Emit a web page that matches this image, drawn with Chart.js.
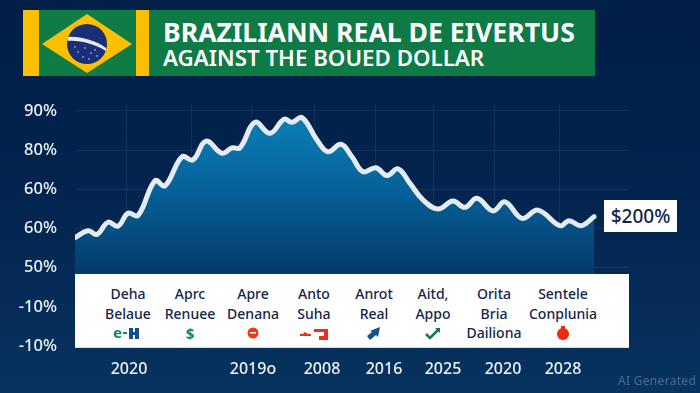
<!DOCTYPE html>
<html>
<head>
<meta charset="utf-8">
<title>Brazilian real chart</title>
<script src="https://cdn.jsdelivr.net/npm/chart.js@4"></script>
<style>
    html, body { margin: 0; padding: 0; }
    body { width: 700px; height: 393px; overflow: hidden; position: relative; font-family: "Noto Sans", sans-serif;
        background: linear-gradient(180deg, #011f47 0%, #02234d 45%, #07335f 100%); }
    #chart { position: absolute; left: 0; top: 0; }
    #banner { position: absolute; left: 23px; top: 10px; width: 572px; height: 66px; background: #0e7a46; }
    #banner svg { position: absolute; left: 0; top: 0; }
    #banner .t1, #banner .t2 { position: absolute; left: 140px; color: #fff; font-weight: 700; white-space: nowrap; }
    #banner .t1 { top: 3px; font-size: 26.6px; line-height: 38px; }
    #banner .t2 { top: 34px; font-size: 22.3px; line-height: 28px; font-weight: 600; }
    #panel { position: absolute; left: 75px; top: 274px; width: 554px; height: 74px; background: #fff;
        border-bottom: 1px solid #d5d9de; box-sizing: border-box; }
    .col { position: absolute; top: 10px; width: 90px; margin-left: -45px; text-align: center;
        font-size: 14px; line-height: 19.5px; font-weight: 500; color: #13264a; white-space: nowrap; }
    .col svg { display: block; margin: 3px auto 0; }
    #tag { position: absolute; left: 604px; top: 200px; width: 73px; height: 32px; background: #fff; color: #10234a;
        font-size: 19px; font-weight: 500; line-height: 32px; text-align: center; }
    #credit { position: absolute; left: 618px; top: 373px; font-size: 12px; line-height: 16px; color: #4f6a8b; letter-spacing: .3px; white-space: nowrap; }
</style>
</head>
<body>
<canvas id="chart" width="700" height="393"></canvas>

<div id="banner">
    <svg width="126" height="66" viewBox="0 0 126 66">
        <rect x="0" y="0" width="16" height="66" fill="#fcbf00"/>
        <rect x="113" y="0" width="13" height="66" fill="#fcbf00"/>
        <rect x="16" y="0" width="97" height="66" fill="#0f7b45"/>
        <polygon points="19,34 64,4 109,34 64,63" fill="#fcc000"/>
        <circle cx="64" cy="34" r="20" fill="#1a2f78"/>
        <path d="M45 27 C56 26 72 30 83 38 L83 41 C72 34 56 30 44.500 31 Z" fill="#e6ecf0"/>
        <g fill="#cfd8ea">
            <circle cx="55" cy="42" r="0.8"/><circle cx="62" cy="38" r="0.8"/><circle cx="68" cy="43" r="0.8"/>
            <circle cx="74" cy="46" r="0.8"/><circle cx="60" cy="47" r="0.8"/><circle cx="52" cy="37" r="0.8"/>
            <circle cx="66" cy="49" r="0.8"/><circle cx="72" cy="40" r="0.8"/>
        </g>
    </svg>
    <div class="t1">BRAZILIANN REAL DE EIVERTUS</div>
    <div class="t2">AGAINST THE BOUED DOLLAR</div>
</div>

<div id="panel"></div>
<div id="tag">$200%</div>
<div id="credit">AI Generated</div>

<script>
// series (t = position along the time axis)
var seriesT = [0, 13, 22, 33, 43, 53, 63, 80, 90, 107, 118, 131, 147, 157, 165, 180, 195, 209, 217, 227, 242, 253,
    266, 277, 288, 301, 312, 323, 335, 348, 363, 378, 390, 402, 418, 430, 447, 463, 485, 494, 506, 519];
var seriesValues = [57.7, 59.4, 58.5, 61.6, 60.6, 63.9, 63.3, 72.2, 70.9, 78.3, 77.5, 82.3, 79.2, 80.6, 80.6, 87.1, 84.3, 87.9, 87.1, 88.3, 82.6, 79.6,
    81.5, 78.3, 74.5, 75.5, 73.5, 75.2, 71.5, 67.3, 65, 67, 65.4, 67.7, 64.5, 66.8, 62.6, 64.7, 60.7, 62, 60.7, 63];

var yTicks = [30, 40, 50, 60, 70, 80, 90];
var yTickLabels = ['-10%', '-10%', '50%', '60%', '60%', '80%', '90%'];
var xTicks = [54, 178, 247, 309, 368, 428, 488];
var xTickLabels = ['2020', '2019o', '2008', '2016', '2025', '2020', '2028'];
var xGrid = [51, 116, 176, 239, 300, 358, 419, 484];

var panelT = [53, 115, 178, 239, 299, 358, 419, 488];
var panelLabels = [['Deha', 'Belaue'], ['Aprc', 'Renuee'], ['Apre', 'Denana'], ['Anto', 'Suha'],
    ['Anrot', 'Real'], ['Aitd,', 'Appo'], ['Orita', 'Bria', 'Dailiona'], ['Sentele', 'Conplunia']];
var panelIcons = [
    '<svg width="30" height="14"><text x="0" y="12" font-size="15" font-weight="700" fill="#0f8a5a">e</text><rect x="10" y="6" width="4" height="2" fill="#0f8a5a"/><path d="M16 2h4v4h2V2h4v11h-4V9h-2v4h-4z" fill="#12508f"/></svg>',
    '<svg width="14" height="14"><text x="7" y="12.500" text-anchor="middle" font-size="15" font-weight="700" fill="#0f8a5a">$</text></svg>',
    '<svg width="14" height="14"><circle cx="7" cy="7" r="5.500" fill="#ee3b16"/><rect x="4" y="6" width="6" height="1.500" fill="#fff"/></svg>',
    '<svg width="28" height="14"><path d="M0 8h3l2-2 3 2h3v2H0z" fill="#e8301a"/><path d="M14 3h14v11h-9v-4h5V6H14z" fill="#e8301a"/></svg>',
    '<svg width="16" height="14"><path d="M1 10l5-4-2-1 10-4-2 10-2-2-6 5z" fill="#12508f"/></svg>',
    '<svg width="16" height="14"><path d="M1 8l4 4 8-8" fill="none" stroke="#0f7b45" stroke-width="2.500"/><path d="M10 2h5v5z" fill="#0f7b45"/></svg>',
    '',
    '<svg width="14" height="14"><circle cx="7" cy="8" r="6" fill="#ee2a0c"/><rect x="5" y="0" width="4" height="3" fill="#ee2a0c"/></svg>'
];

var plotLeft = 75, plotRight = 629, plotTop = 104, plotBottom = 346;

var panel = document.getElementById('panel');
panelLabels.forEach(function(lines, i) {
    var col = document.createElement('div');
    col.className = 'col';
    col.style.left = panelT[i] + 'px';
    col.innerHTML = lines.join('<br>') + panelIcons[i];
    panel.appendChild(col);
});

function areaFill(context) {
    var g = context.chart.ctx.createLinearGradient(0, 115, 0, 274);
    g.addColorStop(0, '#0a80b6');
    g.addColorStop(0.5, '#065f96');
    g.addColorStop(1, '#043a6c');
    return g;
}

new Chart(document.getElementById('chart'), {
    type: 'line',
    data: {
        datasets: [{
            data: seriesT.map(function(t, i) { return {x: t, y: seriesValues[i]}; }),
            borderColor: '#e4ebf3',
            borderWidth: 5,
            borderCapStyle: 'round',
            borderJoinStyle: 'round',
            backgroundColor: areaFill,
            fill: 'origin',
            tension: 0.4,
            pointRadius: 0
        }]
    },
    options: {
        responsive: false,
        animation: false,
        layout: { padding: { top: plotTop, right: 700 - plotRight, left: 0, bottom: 0 } },
        plugins: { legend: { display: false }, tooltip: { enabled: false } },
        scales: {
            x: {
                type: 'linear',
                min: 0,
                max: plotRight - plotLeft,
                grid: { display: false },
                border: { display: false },
                afterBuildTicks: function(scale) {
                    scale.ticks = xTicks.map(function(v) { return {value: v}; });
                },
                afterFit: function(scale) { scale.height = 393 - plotBottom; },
                ticks: {
                    autoSkip: false,
                    maxRotation: 0,
                    padding: 6,
                    color: '#eef3f8',
                    font: { family: 'Noto Sans', size: 16, weight: '500' },
                    callback: function(value, i) { return xTickLabels[i]; }
                }
            },
            gridX: {
                type: 'linear',
                axis: 'x',
                position: 'bottom',
                min: 0,
                max: plotRight - plotLeft,
                border: { display: false },
                grid: { color: 'rgba(255,255,255,0.07)', drawTicks: false },
                afterBuildTicks: function(scale) {
                    scale.ticks = xGrid.map(function(v) { return {value: v}; });
                },
                afterFit: function(scale) { scale.height = 0; },
                ticks: { display: false }
            },
            y: {
                type: 'linear',
                min: 30,
                max: 30 + (plotBottom - plotTop) / 3.917,
                border: { display: false },
                grid: { color: 'rgba(255,255,255,0.07)', drawTicks: false },
                afterBuildTicks: function(scale) {
                    scale.ticks = yTicks.map(function(v) { return {value: v}; });
                },
                afterFit: function(scale) { scale.width = plotLeft; },
                ticks: {
                    padding: 18,
                    color: '#eef3f8',
                    font: { family: 'Noto Sans', size: 16.5, weight: '500' },
                    callback: function(value, i) { return yTickLabels[i]; }
                }
            }
        }
    }
});
</script>
</body>
</html>
